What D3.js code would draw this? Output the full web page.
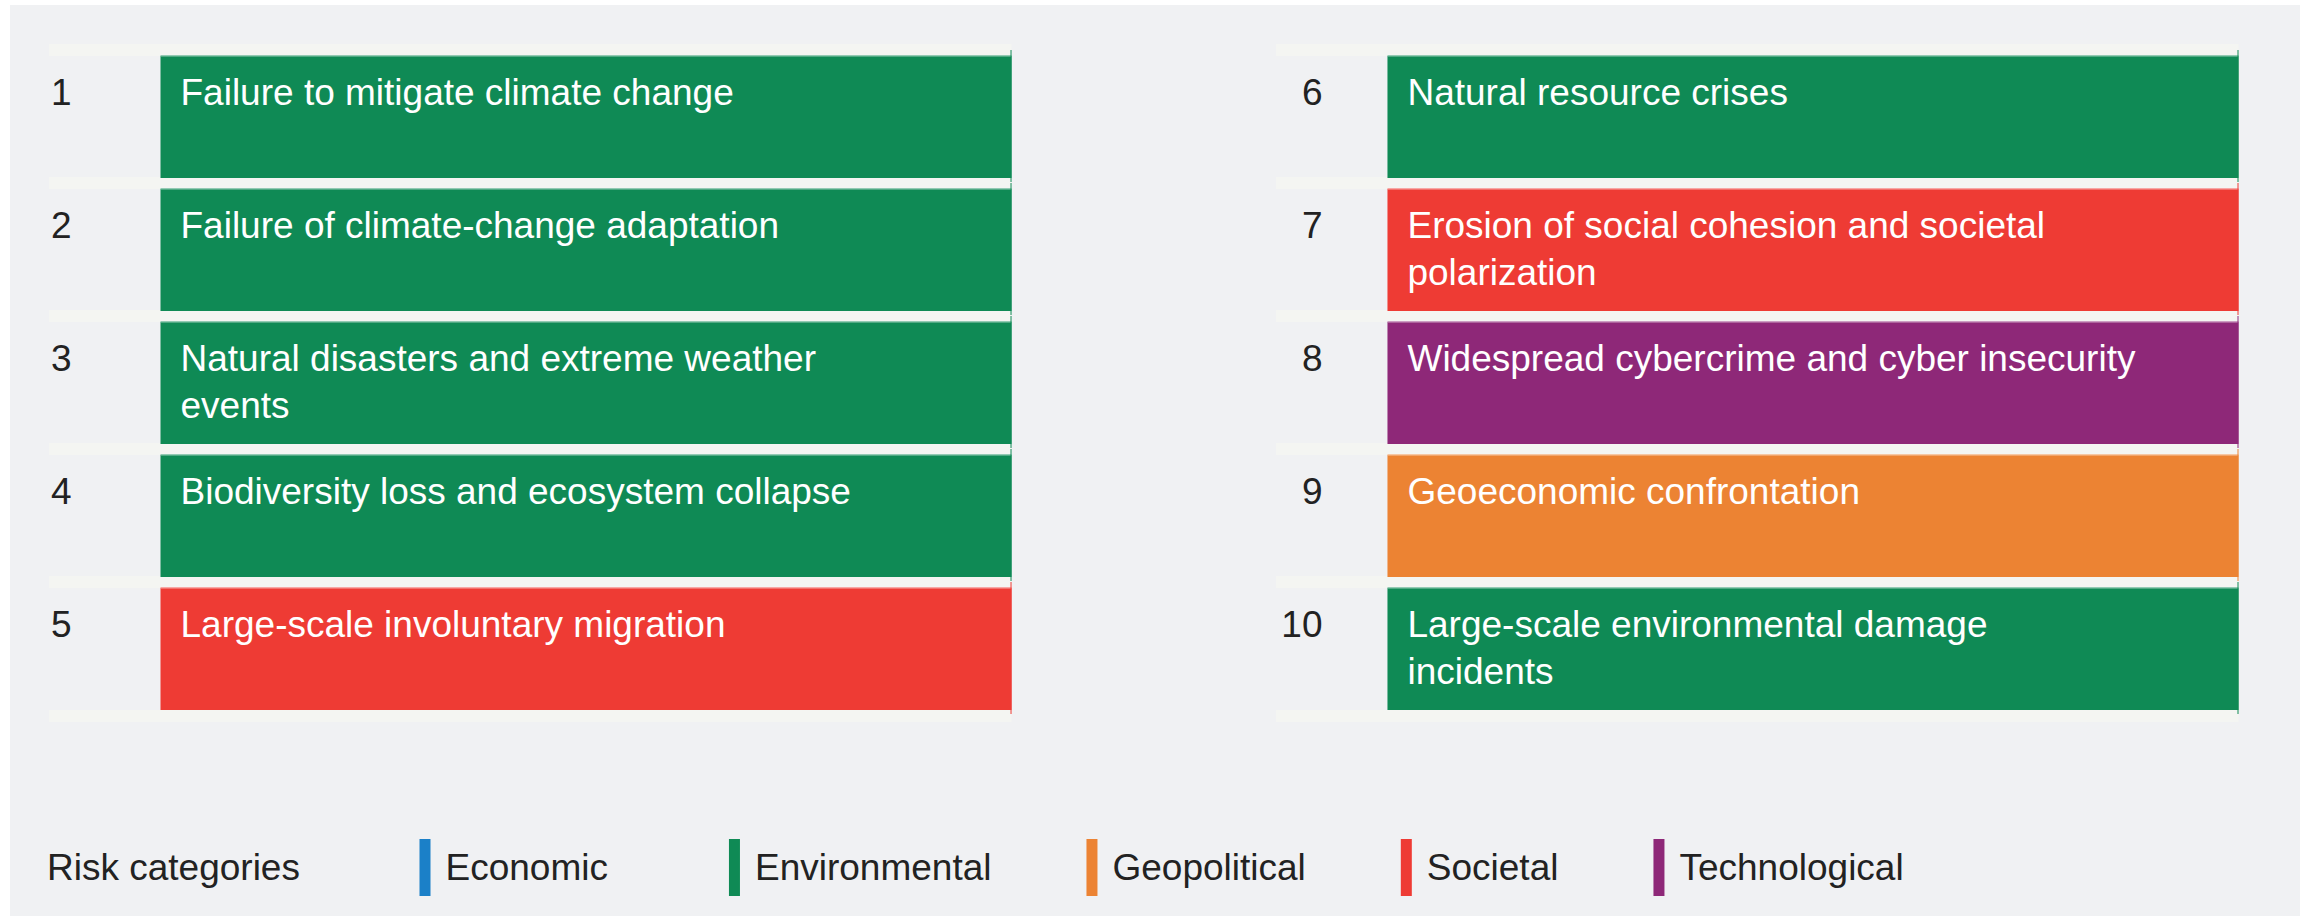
<!DOCTYPE html>
<html>
<head>
<meta charset="utf-8">
<script src="https://cdn.jsdelivr.net/npm/d3@7"></script>
<style>
  body { margin: 0; background: #fff; }
  text { font-family: "Liberation Sans", Arial, Helvetica, sans-serif; }
</style>
</head>
<body>
<div id="chart"></div>
<script>
// ranks and risk names (line breaks as in the source)
const ranks = [1, 2, 3, 4, 5, 6, 7, 8, 9, 10];
const risks = [
    "Failure to mitigate climate change",
    "Failure of climate-change adaptation",
    "Natural disasters and extreme weather\nevents",
    "Biodiversity loss and ecosystem collapse",
    "Large-scale involuntary migration",
    "Natural resource crises",
    "Erosion of social cohesion and societal\npolarization",
    "Widespread cybercrime and cyber insecurity",
    "Geoeconomic confrontation",
    "Large-scale environmental damage\nincidents"
];
const riskCategory = [
    "Environmental", "Environmental", "Environmental", "Environmental", "Societal",
    "Environmental", "Societal", "Technological", "Geopolitical", "Environmental"
];
const categories = ["Economic", "Environmental", "Geopolitical", "Societal", "Technological"];
const categoryColors = ["#1b80c8", "#0f8a55", "#ec8333", "#ee3b34", "#8e2878"];

const W = 2300, H = 916;
const fontSize = 37;

const color = d3.scaleOrdinal().domain(categories).range(categoryColors);

const svg = d3.select("#chart").append("svg")
    .attr("width", W)
    .attr("height", H);

// page background
svg.append("rect")
    .attr("x", 10).attr("y", 5)
    .attr("width", W - 10).attr("height", H - 5)
    .attr("fill", "#f0f1f3");

const perCol = 5;
const rows = d3.range(perCol);

const x = d3.scaleBand()
    .domain([0, 1])
    .range([160.5, 2238.5])
    .paddingInner(0.3064);

const y = d3.scaleBand()
    .domain(rows)
    .range([56, 710])
    .paddingInner(11 / 133);

const numOffset = [89, 65];
const bandLead = 111.5;
const gap = y.step() - y.bandwidth();

const data = ranks.map((r, i) => ({
    rank: r,
    label: risks[i],
    cat: riskCategory[i],
    col: Math.floor(i / perCol),
    row: i % perCol
}));

// faint separator strips
[0, 1].forEach(col => {
    const x0 = x(col) - bandLead;
    const x1 = x(col) + x.bandwidth();
    rows.forEach(r => {
        svg.append("rect")
            .attr("x", x0)
            .attr("y", y(r) - gap - 1)
            .attr("width", x1 - x0)
            .attr("height", gap + 1)
            .attr("fill", "#f4f5f2");
    });
    svg.append("rect")
        .attr("x", x0)
        .attr("y", y(perCol - 1) + y.bandwidth())
        .attr("width", x1 - x0)
        .attr("height", gap + 1)
        .attr("fill", "#f4f5f2");
});

const row = svg.selectAll("g.risk")
    .data(data)
    .join("g")
    .attr("class", "risk");

row.append("rect")
    .attr("x", d => x(d.col))
    .attr("y", d => y(d.row))
    .attr("width", x.bandwidth())
    .attr("height", y.bandwidth())
    .attr("fill", d => color(d.cat));

// thin light edge on top of each bar
row.append("rect")
    .attr("x", d => x(d.col))
    .attr("y", d => y(d.row) - 1)
    .attr("width", x.bandwidth())
    .attr("height", 1.5)
    .attr("fill", d => d3.interpolateRgb(color(d.cat), "#ffffff")(0.55));

// right edge line
row.append("line")
    .attr("x1", d => x(d.col) + x.bandwidth() - 0.5)
    .attr("x2", d => x(d.col) + x.bandwidth() - 0.5)
    .attr("y1", d => y(d.row) - 6)
    .attr("y2", d => y(d.row) + y.bandwidth() + 4)
    .attr("stroke", d => color(d.cat))
    .attr("stroke-width", 1);

row.append("text")
    .attr("x", d => x(d.col) - numOffset[d.col])
    .attr("y", d => y(d.row) + 49)
    .attr("text-anchor", "end")
    .attr("font-size", fontSize)
    .attr("fill", "#222")
    .text(d => d.rank);

row.append("text")
    .attr("x", d => x(d.col) + 20)
    .attr("y", d => y(d.row) + 49)
    .attr("font-size", fontSize)
    .attr("fill", "#fff")
    .selectAll("tspan")
    .data(d => d.label.split("\n").map((t, k) => ({ t, k, x: x(d.col) + 20 })))
    .join("tspan")
    .attr("x", t => t.x)
    .attr("dy", t => t.k === 0 ? 0 : 47)
    .text(t => t.t);

// legend
const legendY = 880;
svg.append("text")
    .attr("x", 47)
    .attr("y", legendY)
    .attr("font-size", fontSize)
    .attr("fill", "#222")
    .text("Risk categories");

const legendGaps = [121, 95, 95, 95, 0];
let lx = 419.5;
categories.forEach((c, i) => {
    svg.append("rect")
        .attr("x", lx)
        .attr("y", 839)
        .attr("width", 11)
        .attr("height", 57)
        .attr("fill", color(c));
    const t = svg.append("text")
        .attr("x", lx + 26)
        .attr("y", legendY)
        .attr("font-size", fontSize)
        .attr("fill", "#222")
        .text(c);
    lx = lx + 26 + t.node().getComputedTextLength() + legendGaps[i];
});
</script>
</body>
</html>
